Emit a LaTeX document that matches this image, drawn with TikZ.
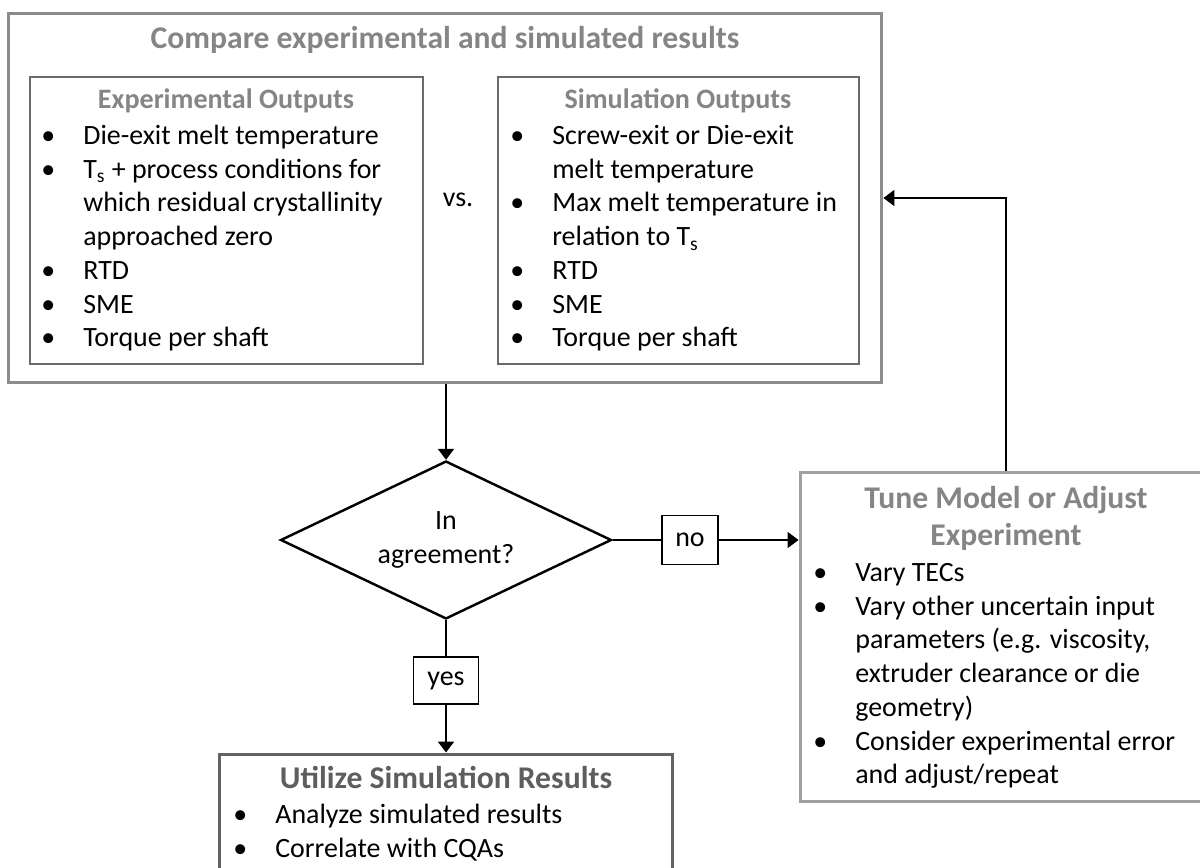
\documentclass[tikz,border=0pt]{standalone}
\usepackage{fontspec}
\setmainfont{Carlito}
\usetikzlibrary{arrows.meta,shapes.geometric}

\definecolor{framegray}{HTML}{8C8C8C}
\definecolor{innergray}{HTML}{6A6A6A}
\definecolor{tunegray}{HTML}{A0A0A0}
\definecolor{utilgray}{HTML}{636363}
\definecolor{headgray}{HTML}{858585}
\definecolor{darkhead}{HTML}{5E5E5E}

\newcommand{\bul}{\makebox[0.84cm][l]{\textbullet}}
\newcommand{\ind}{\hspace*{0.84cm}}

\begin{document}
\begin{tikzpicture}[x=0.02cm, y=-0.02cm, >={Triangle[length=0.22cm,width=0.32cm]},
  body/.style={font=\fontsize{15.9}{19.2}\selectfont},
  outer/.style={draw=framegray, line width=1.7pt, inner sep=0},
  inner/.style={draw=innergray, line width=1.1pt, inner sep=0},
  head/.style={font=\fontsize{16}{19.2}\selectfont\bfseries, text=headgray, inner sep=0},
  big head/.style={font=\fontsize{18}{21}\selectfont\bfseries, text=headgray, inner sep=0, align=center},
  list/.style={body, align=left, inner sep=0, anchor=north west},
  tag/.style={draw, line width=1.1pt, inner sep=0, body},
  link/.style={line width=1.1pt}]

\clip (0,0) rectangle (1200,868);

\node [outer, minimum width=17.48cm, minimum height=7.4cm] (compare) at (445,198) {};
\node [inner, minimum width=7.86cm, minimum height=5.74cm] (exp) at (226.5,220.5) {};
\node [inner, minimum width=7.22cm, minimum height=5.74cm] (sim) at (678.5,220.5) {};

\node [big head, anchor=base] (compare-title) at (445,49) {Compare experimental and simulated results};
\node [head, anchor=base] (exp-title) at (226,109) {Experimental Outputs};
\node [head, anchor=base] (sim-title) at (678,109) {Simulation Outputs};

\node [list] (exp-list) at (41,120.4) {\strut\bul Die-exit melt temperature\\
  \bul T\textsubscript{s} + process conditions for\\
  \ind which residual crystallinity\\
  \ind approached zero\\
  \bul RTD\\
  \bul SME\\
  \bul Torque per shaft};

\node [list] (sim-list) at (510,120.4) {\strut\bul Screw-exit or Die-exit\\
  \ind melt temperature\\
  \bul Max melt temperature in\\
  \ind relation to T\textsubscript{s}\\
  \bul RTD\\
  \bul SME\\
  \bul Torque per shaft};

\node [body, anchor=base, inner sep=0] (vs) at (458,207) {vs.};

\node [draw, diamond, aspect=2, line width=1.4pt, inner sep=0, minimum width=6.62cm,
  minimum height=3.16cm, align=center, body] (agree) at (446,540) {In\\agreement?};

\node [tag, minimum width=1.12cm, minimum height=0.98cm] (no) at (690,540) {no};
\node [tag, minimum width=1.3cm, minimum height=0.94cm] (yes) at (446,680.5) {yes};

\node [draw=tunegray, line width=1.7pt, minimum width=8.24cm, minimum height=6.6cm] (tune) at (1006,637) {};
\node [big head, anchor=north] (tune-title) at (1006,482.2) {\strut Tune Model or Adjust\\Experiment};
\node [list] (tune-list) at (813,557.4) {\strut\bul Vary TECs\\
  \bul Vary other uncertain input\\
  \ind parameters (e.g. viscosity,\\
  \ind extruder clearance or die\\
  \ind geometry)\\
  \bul Consider experimental error\\
  \ind and adjust/repeat};

\node [draw=utilgray, line width=1.7pt, minimum width=9.08cm, minimum height=2.8cm] (util) at (446,824) {};
\node [big head, text=darkhead, anchor=base] (util-title) at (446,788) {Utilize Simulation Results};
\node [list] (util-list) at (233,799.4) {\strut\bul Analyze simulated results\\
  \bul Correlate with CQAs};

\draw [link, ->] (compare.south -| agree.north) -- (agree.north);
\draw [link] (agree.east) -- (no.west);
\draw [link, ->] (no.east) -- (no.east -| tune.west);
\draw [link] (agree.south) -- (yes.north);
\draw [link, ->] (yes.south) -- (util.north);
\draw [link, ->] (tune.north) |- (compare.east);

\end{tikzpicture}
\end{document}
